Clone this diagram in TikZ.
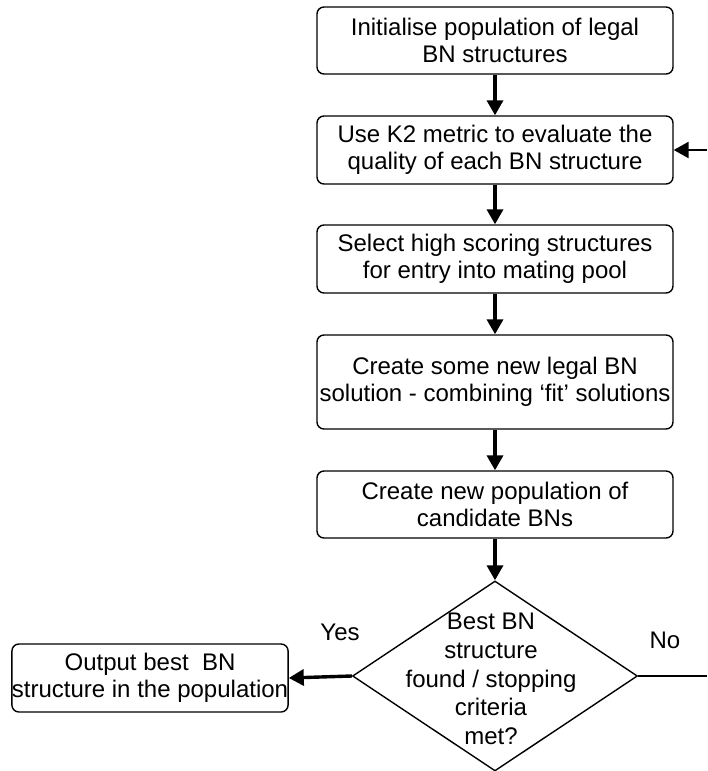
\documentclass[tikz,border=0pt]{standalone}
\usepackage{fontspec}
\setmainfont{Liberation Sans}
\usetikzlibrary{shapes.geometric,arrows.meta}
\begin{document}
\begin{tikzpicture}[x=1pt,y=-1pt,
  box/.style={draw, line width=1.4pt, rounded corners=7pt, minimum width=356pt, align=center, inner sep=0pt, font=\fontsize{24}{27}\selectfont},
  lbl/.style={font=\fontsize{24}{27}\selectfont, inner sep=0pt},
  arr/.style={line width=3.4pt, -{Triangle[length=15pt,width=16pt]}},
  decision/.style={diamond, draw, line width=1.4pt, minimum width=285pt, minimum height=190pt, inner sep=0pt},
]
\useasboundingbox (0,0) rectangle (707,771);
\node[box, minimum height=67pt] (b1) at (495,40.5) {Initialise population of legal\\BN structures};
\node[box, minimum height=68pt] (b2) at (495,150) {Use K2 metric to evaluate the\\quality of each BN structure};
\node[box, minimum height=68pt] (b3) at (495,259) {Select high scoring structures\\for entry into mating pool};
\node[box, minimum height=94pt] (b4) at (495,382) {Create some new legal BN\\solution - combining ‘fit’ solutions};
\node[box, minimum height=67pt] (b5) at (495,504.5) {Create new population of\\candidate BNs};
\node[decision] (d) at (495,676) {};
\node[lbl, align=center, font=\fontsize{24}{28.8}\selectfont] (dt) at (491,679) {Best BN\\structure\\found / stopping\\criteria\\met?};
\node[box, minimum width=274pt, minimum height=68pt] (out) at (150,678) {Output best~ BN\\structure in the population};
\node[lbl] (yes) at (340,632) {Yes};
\node[lbl] (no) at (665,640) {No};
\coordinate (rb) at (707,676);
\coordinate (rt) at (707,150);
\draw[arr] (b1) -- (b2);
\draw[arr] (b2) -- (b3);
\draw[arr] (b3) -- (b4);
\draw[arr] (b4) -- (b5);
\draw[arr] (b5) -- (d.north);
\draw[arr] (d.west) -- (out.east);
\draw[line width=2.6pt] (d.east) -- (rb);
\draw[arr, line width=2.6pt] (rt) -- (b2.east);
\end{tikzpicture}
\end{document}
